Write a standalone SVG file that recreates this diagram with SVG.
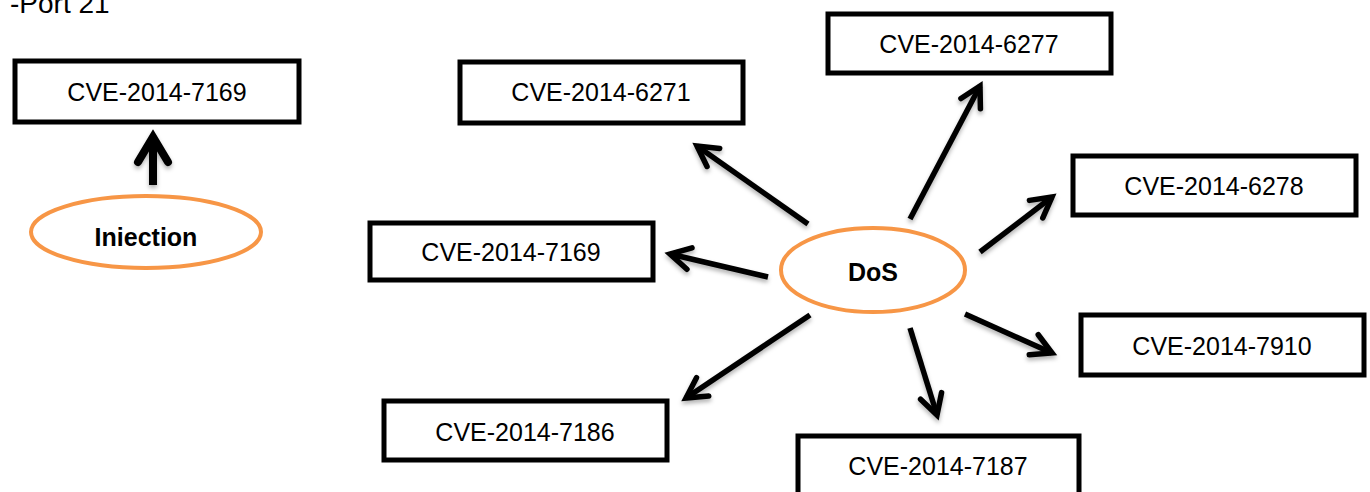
<svg xmlns="http://www.w3.org/2000/svg" width="1370" height="492" viewBox="0 0 1370 492">
<style>
.box{fill:#fff;stroke:#000;stroke-width:5}
.ell{fill:#fff;stroke:#F79646;stroke-width:4}
.t{font-family:"Liberation Sans",Arial,sans-serif;font-size:25px;fill:#000;text-anchor:middle}
.b{font-weight:bold}
.arr{stroke:#000;stroke-width:5.5;fill:none;stroke-linecap:butt}
</style>
<defs>
<marker id="ah" markerUnits="userSpaceOnUse" markerWidth="50" markerHeight="50" viewBox="-35 -25 50 50" refX="0" refY="0" orient="auto">
<path d="M-20,-11 L0,0 L-20,11" fill="none" stroke="#000" stroke-width="5.5" stroke-linecap="round" stroke-linejoin="miter"/>
</marker>
<filter id="sh" x="-20%" y="-20%" width="140%" height="140%">
<feDropShadow dx="0" dy="3" stdDeviation="2" flood-color="#000" flood-opacity="0.3"/>
</filter>
</defs>
<text class="t" x="10" y="13" style="text-anchor:start;font-size:28px">-Port 21</text>
<g id="connectors" filter="url(#sh)">
<line x1="153" y1="185" x2="153" y2="140" stroke="#000" stroke-width="8"/>
<path d="M138,162 L153,137 L168,162" fill="none" stroke="#000" stroke-width="8" stroke-linecap="round" stroke-linejoin="miter"/>
<line class="arr" x1="808" y1="224" x2="697" y2="146" marker-end="url(#ah)"/>
<line class="arr" x1="910" y1="219" x2="980" y2="86" marker-end="url(#ah)"/>
<line class="arr" x1="980" y1="252" x2="1052" y2="197" marker-end="url(#ah)"/>
<line class="arr" x1="768" y1="277" x2="670" y2="254" marker-end="url(#ah)"/>
<line class="arr" x1="965" y1="314" x2="1052" y2="353" marker-end="url(#ah)"/>
<line class="arr" x1="910" y1="328" x2="937" y2="415" marker-end="url(#ah)"/>
<line class="arr" x1="810" y1="315" x2="686" y2="398" marker-end="url(#ah)"/>
</g>
<g id="n-inj-cve"><rect class="box" x="15" y="61" width="284" height="61"/><text class="t" x="157" y="101">CVE-2014-7169</text></g>
<g id="n-injection"><ellipse class="ell" cx="146" cy="232" rx="115" ry="36"/><text class="t b" x="146" y="246">Iniection</text></g>
<g id="n-6271"><rect class="box" x="460" y="62" width="283" height="61"/><text class="t" x="601" y="101">CVE-2014-6271</text></g>
<g id="n-6277"><rect class="box" x="828" y="14" width="283" height="59"/><text class="t" x="969" y="53">CVE-2014-6277</text></g>
<g id="n-6278"><rect class="box" x="1073" y="156" width="283" height="59"/><text class="t" x="1214" y="195">CVE-2014-6278</text></g>
<g id="n-7169"><rect class="box" x="370" y="223" width="283" height="57"/><text class="t" x="511" y="261">CVE-2014-7169</text></g>
<g id="n-7910"><rect class="box" x="1081" y="315" width="283" height="60"/><text class="t" x="1222" y="355">CVE-2014-7910</text></g>
<g id="n-7186"><rect class="box" x="384" y="401" width="283" height="59"/><text class="t" x="525" y="441">CVE-2014-7186</text></g>
<g id="n-7187"><rect class="box" x="798" y="436" width="281" height="70"/><text class="t" x="938" y="475">CVE-2014-7187</text></g>
<g id="n-dos"><ellipse class="ell" cx="873" cy="270" rx="92" ry="42"/><text class="t b" x="873" y="281">DoS</text></g>
</svg>
